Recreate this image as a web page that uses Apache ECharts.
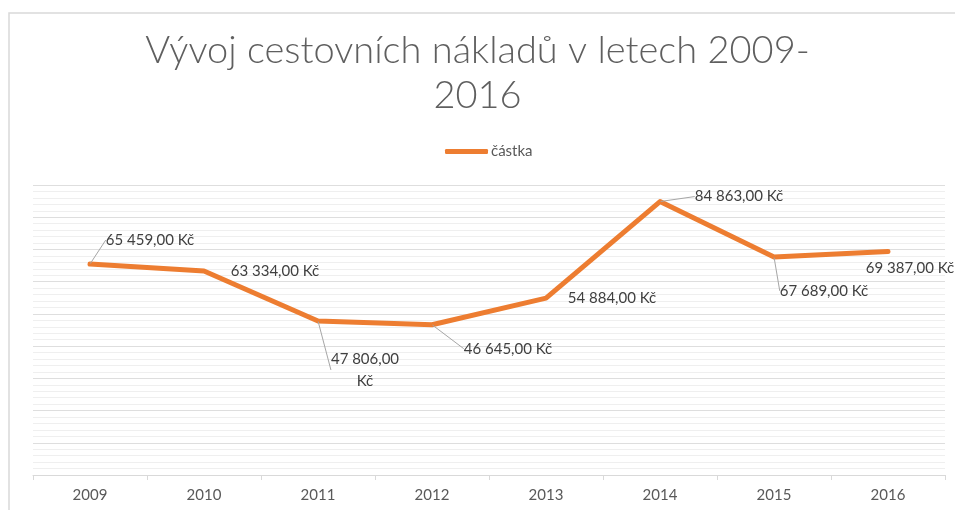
<!DOCTYPE html>
<html>
<head>
<meta charset="utf-8">
<script src="https://cdn.jsdelivr.net/npm/echarts@6/dist/echarts.min.js"></script>
<style>
  html, body { margin: 0; padding: 0; background: #fff; }
  #chart { width: 955px; height: 510px; }
</style>
</head>
<body>
<div id="chart"></div>
<script>
// data
var years = ['2009', '2010', '2011', '2012', '2013', '2014', '2015', '2016'];
var castka = [65459, 63334, 47806, 46645, 54884, 84863, 67689, 69387];
var yTicks = [0, 90000, 10000]; // min, max, interval

// posun popisku od bodu (dx, dy) - jako v excelu
var labelShift = [[60, -24], [71, 0], [47, 49], [76, 24], [66, 0], [79, -5], [50, 34], [22, 17]];
var showLeader = [true, false, true, true, false, true, true, false];

function fmtKc(v) {
    var s = String(v).replace(/\B(?=(\d{3})+(?!\d))/g, ' ');
    return s + ',00 Kč';
}

var seriesData = castka.map(function (v, i) {
    return { value: v, labelLine: { show: showLeader[i] } };
});

var chart = echarts.init(document.getElementById('chart'));

var option = {
    backgroundColor: '#fff',
    textStyle: { fontFamily: 'Lato' },
    animation: false,
    graphic: [{
        type: 'rect',
        shape: { x: 9, y: 13, width: 960, height: 520 },
        style: { fill: 'none', stroke: '#d9d9d9', lineWidth: 1.5 },
        silent: true
    }],
    title: {
        text: 'Vývoj cestovních nákladů v letech 2009-\n2016',
        left: 'center',
        top: 23,
        textStyle: {
            fontFamily: 'Lato',
            fontWeight: 300,
            fontSize: 38,
            lineHeight: 45,
            color: '#5f5f5f'
        }
    },
    legend: {
        top: 139,
        left: 440,
        itemWidth: 43,
        itemHeight: 5,
        itemGap: 10,
        data: [{ name: 'částka', icon: 'roundRect' }],
        textStyle: { fontSize: 15, color: '#595959', fontFamily: 'Lato', padding: [0, 0, 0, -2] }
    },
    grid: { left: 33, right: 10, top: 185, bottom: 35, containLabel: false },
    xAxis: {
        type: 'category',
        data: years,
        boundaryGap: true,
        axisLine: { lineStyle: { color: '#d9d9d9', width: 1 } },
        axisTick: { show: true, length: 5, lineStyle: { color: '#d9d9d9' } },
        axisLabel: { color: '#595959', fontSize: 15, margin: 13 }
    },
    yAxis: {
        type: 'value',
        min: yTicks[0],
        max: yTicks[1],
        interval: yTicks[2],
        axisLabel: { show: false },
        axisLine: { show: false },
        axisTick: { show: false },
        splitLine: { lineStyle: { color: '#dedede', width: 1 } },
        minorTick: { show: false, splitNumber: 5 },
        minorSplitLine: { show: true, lineStyle: { color: '#efefef', width: 1 } }
    },
    series: [{
        name: 'částka',
        type: 'line',
        data: seriesData,
        symbol: 'circle',
        symbolSize: 1,
        itemStyle: { color: '#ed7d31' },
        lineStyle: { color: '#ed7d31', width: 5, cap: 'round', join: 'round' },
        label: {
            show: true,
            position: 'inside',
            color: '#404040',
            fontSize: 15,
            fontFamily: 'Lato',
            lineHeight: 22,
            formatter: function (p) {
                var t = fmtKc(p.value);
                if (p.dataIndex === 2) t = t.replace(' Kč', '\nKč');
                return t;
            }
        },
        labelLine: {
            show: true,
            lineStyle: { color: '#a6a6a6', width: 1 }
        },
        labelLayout: function (p) {
            var s = labelShift[p.dataIndex];
            return { dx: s[0], dy: s[1] };
        }
    }]
};

chart.setOption(option);
</script>
</body>
</html>
